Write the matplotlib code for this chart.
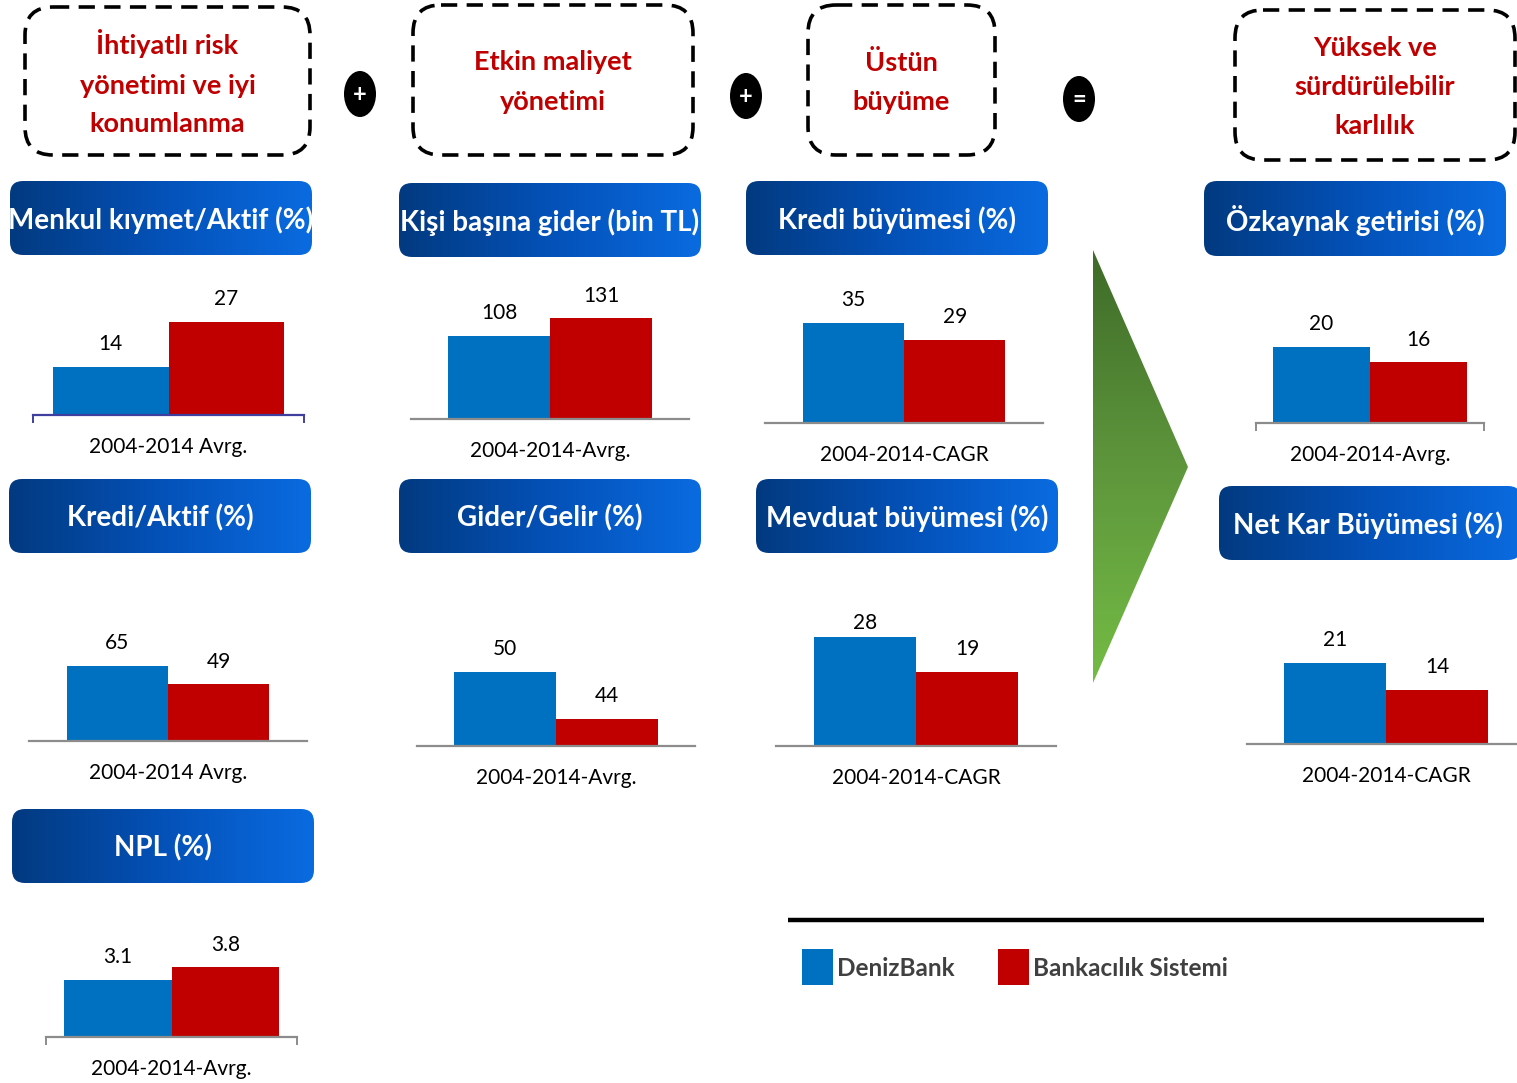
import numpy as np
import matplotlib
matplotlib.use("Agg")
import matplotlib.pyplot as plt
from matplotlib.patches import FancyBboxPatch, Ellipse, Polygon, Rectangle
from matplotlib.colors import LinearSegmentedColormap

plt.rcParams['font.family'] = ['Lato', 'DejaVu Sans']

# ---------------- data ----------------
series_names = ["DenizBank", "Bankacılık Sistemi"]
chart_titles = ["Menkul kıymet/Aktif (%)", "Kişi başına gider (bin TL)", "Kredi büyümesi (%)",
                "Özkaynak getirisi (%)", "Kredi/Aktif (%)", "Gider/Gelir (%)",
                "Mevduat büyümesi (%)", "Net Kar Büyümesi (%)", "NPL (%)"]
period_labels = ["2004-2014 Avrg.", "2004-2014-Avrg.", "2004-2014-CAGR",
                 "2004-2014-Avrg.", "2004-2014 Avrg.", "2004-2014-Avrg.",
                 "2004-2014-CAGR", "2004-2014-CAGR", "2004-2014-Avrg."]
denizbank = [14, 108, 35, 20, 65, 50, 28, 21, 3.1]
banking_sector = [27, 131, 29, 16, 49, 44, 19, 14, 3.8]
pillar_texts = ["İhtiyatlı risk\nyönetimi ve iyi\nkonumlanma", "Etkin maliyet\nyönetimi",
                "Üstün\nbüyüme", "Yüksek ve\nsürdürülebilir\nkarlılık"]
operators = ["+", "+", "="]

# ---------------- styling / layout ----------------
W, H = 1517, 1083
BLUE = "#0070C0"
RED = "#C00000"
GRAY = "#8C8C8C"

fig = plt.figure(figsize=(W / 100, H / 100), dpi=100)
ov = fig.add_axes([0, 0, 1, 1], zorder=0)
ov.set_xlim(0, W)
ov.set_ylim(H, 0)
ov.axis("off")

# dashed header boxes: (x0, y0, x1, y1)
pillar_boxes = [(25, 7, 310, 155), (413, 5, 693, 155), (808, 5, 995, 155), (1235, 10, 1515, 160)]
for (x0, y0, x1, y1), txt in zip(pillar_boxes, pillar_texts):
    p = FancyBboxPatch((x0, y0), x1 - x0, y1 - y0, boxstyle="round,pad=0,rounding_size=28",
                       fc="white", ec="black", lw=2.6, ls=(0, (4.5, 2.6)))
    ov.add_patch(p)
    ov.text((x0 + x1) / 2, (y0 + y1) / 2 + 2, txt, ha="center", va="center", color=RED,
            fontsize=19.5, fontweight="bold", linespacing=1.75)

# operator circles
op_pos = [(360, 94), (746, 96), (1079, 99)]
for (cx, cy), op in zip(op_pos, operators):
    ov.add_patch(Ellipse((cx, cy), 32, 46, fc="black", ec="none"))
    ov.text(cx, cy + 1, op, ha="center", va="center", color="white", fontsize=17, fontweight="bold")

# gradient banners
blue_cmap = LinearSegmentedColormap.from_list("bn", ["#023A80", "#0451B8", "#0A6BE0"])
grad_h = np.linspace(0, 1, 256).reshape(1, -1)
banner_boxes = [(10, 181, 312, 255), (399, 183, 701, 257), (746, 181, 1048, 255),
                (1204, 181, 1506, 256), (9, 479, 311, 553), (399, 479, 701, 553),
                (756, 479, 1058, 553), (1219, 486, 1521, 560), (12, 809, 314, 883)]
for (x0, y0, x1, y1), title in zip(banner_boxes, chart_titles):
    p = FancyBboxPatch((x0, y0), x1 - x0, y1 - y0, boxstyle="round,pad=0,rounding_size=13",
                       fc="none", ec="none")
    ov.add_patch(p)
    im = ov.imshow(grad_h, cmap=blue_cmap, extent=(x0, x1, y1, y0), aspect="auto",
                   interpolation="bilinear", zorder=1)
    im.set_clip_path(p)
    ov.text((x0 + min(x1, W)) / 2, (y0 + y1) / 2 + 2, title, ha="center", va="center",
            color="white", fontsize=20, fontweight="bold", zorder=2)

# green arrow
green_cmap = LinearSegmentedColormap.from_list("gr", ["#3E6B28", "#5E963C", "#74BC45"])
grad_v = np.linspace(0, 1, 256).reshape(-1, 1)
tri = Polygon([(1093, 250), (1188, 467), (1093, 683)], closed=True, fc="none", ec="none")
ov.add_patch(tri)
im = ov.imshow(grad_v, cmap=green_cmap, extent=(1093, 1188, 683, 250), aspect="auto",
               interpolation="bilinear", zorder=1)
im.set_clip_path(tri)

# legend
ov.plot([788, 1484], [920, 920], color="black", lw=3.2, solid_capstyle="butt")
legend_items = [(802, BLUE), (998, RED)]
for (lx, col), name in zip(legend_items, series_names):
    ov.add_patch(Rectangle((lx, 949), 31, 36, fc=col, ec="none"))
    ov.text(lx + 35, 968, name, ha="left", va="center", color="#404040",
            fontsize=17.5, fontweight="bold")

ov.set_xlim(0, W)
ov.set_ylim(H, 0)

# bar charts: axis-line left/right, baseline, y minimum, px per unit, bar width,
# spine colour, end ticks, value-label padding
chart_layout = [
    (33, 304, 415, 0, 3.45, 0.428, "#3F3FA0", True, 9),
    (411, 689, 419, 0, 0.77, 0.367, GRAY, False, 9),
    (765, 1043, 423, 0, 2.87, 0.365, GRAY, False, 9),
    (1256, 1484, 423, 0, 3.8, 0.425, GRAY, True, 9),
    (29, 307, 741, 0, 1.16, 0.365, GRAY, False, 9),
    (417, 695, 746, 40.5, 7.83, 0.367, GRAY, False, 9),
    (776, 1056, 746, 0, 3.9, 0.364, GRAY, False, 3),
    (1247, 1525, 744, 0, 3.88, 0.367, GRAY, False, 9),
    (46, 297, 1037, 0, 18.4, 0.428, GRAY, True, 9),
]
AX_H = 150
for i, (al, ar, base, ymin, ppu, bw, scol, endticks, lpad) in enumerate(chart_layout):
    ax = fig.add_axes([al / W, 1 - base / H, (ar - al) / W, AX_H / H], zorder=2)
    ax.patch.set_alpha(0)
    x = np.arange(1)
    b1 = ax.bar(x - bw / 2, [denizbank[i]], bw, color=BLUE, zorder=2)
    b2 = ax.bar(x + bw / 2, [banking_sector[i]], bw, color=RED, zorder=2)
    ax.set_xlim(-0.5, 0.5)
    ax.set_ylim(ymin, ymin + AX_H / ppu)
    for s in ("top", "left", "right"):
        ax.spines[s].set_visible(False)
    ax.spines["bottom"].set_color(scol)
    ax.spines["bottom"].set_linewidth(1.6)
    ax.set_yticks([])
    ax.set_xticks(x)
    ax.set_xticklabels([period_labels[i]], fontsize=15, color="black")
    ax.tick_params(axis="x", which="major", length=0, pad=16)
    if endticks:
        ax.set_xticks([-0.5, 0.5], minor=True)
        ax.tick_params(axis="x", which="minor", length=6, width=1.4, color=scol)
    ax.bar_label(b1, fmt="{:g}", padding=lpad, fontsize=15, color="black")
    ax.bar_label(b2, fmt="{:g}", padding=9, fontsize=15, color="black")

fig.savefig("out.png", dpi=100)
